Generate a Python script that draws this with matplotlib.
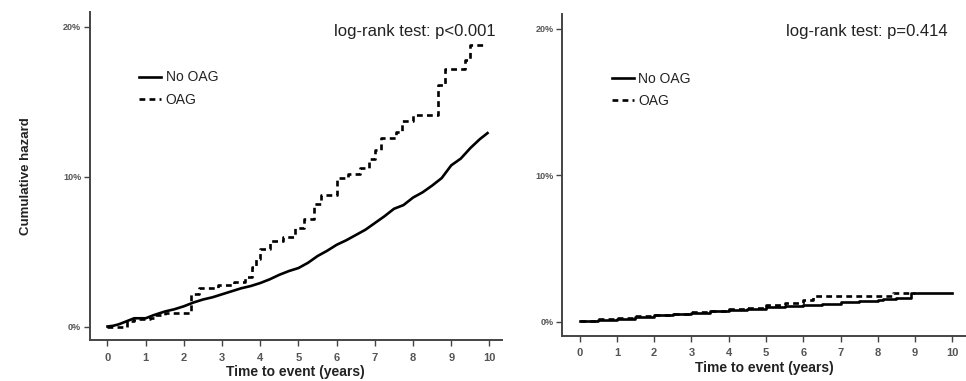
"""Cumulative hazard curves, OAG vs no OAG, two panels side by side."""
import matplotlib; matplotlib.use("Agg")
import matplotlib.pyplot as plt
from matplotlib.ticker import FuncFormatter

plt.rcParams["font.family"] = ["Liberation Sans", "DejaVu Sans"]

# left panel (values in %)
left_no_t = [0, 0.15, 0.3, 0.5, 0.7, 1.0, 1.2, 1.5, 1.75, 2.0, 2.25, 2.5, 2.75, 3.0, 3.25,
             3.5, 3.75, 4.0, 4.25, 4.5, 4.75, 5.0, 5.25, 5.5, 5.75, 6.0, 6.25, 6.5, 6.75,
             7.0, 7.25, 7.5, 7.75, 8.0, 8.25, 8.5, 8.75, 9.0, 9.25, 9.5, 9.75, 9.95]
left_no_v = [0.0, 0.05, 0.15, 0.35, 0.55, 0.55, 0.75, 1.0, 1.15, 1.35, 1.6, 1.8, 1.95, 2.15,
             2.35, 2.55, 2.7, 2.9, 3.15, 3.45, 3.7, 3.9, 4.25, 4.7, 5.05, 5.45, 5.75, 6.1,
             6.45, 6.9, 7.35, 7.85, 8.1, 8.6, 8.95, 9.4, 9.9, 10.75, 11.2, 11.9, 12.5, 12.9]
left_oag_t = [0, 0.5, 0.7, 1.1, 1.25, 1.5, 2.18, 2.4, 2.9, 3.3, 3.6, 3.78, 3.9, 4.0, 4.25,
              4.6, 4.9, 5.15, 5.4, 5.6, 6.02, 6.3, 6.6, 6.85, 7.0, 7.15, 7.55, 7.7, 8.0,
              8.65, 8.83, 9.36, 9.5, 9.88]
left_oag_v = [0.0, 0.35, 0.5, 0.6, 0.8, 0.9, 2.2, 2.6, 2.8, 3.0, 3.3, 4.0, 4.5, 5.2, 5.7,
              6.0, 6.6, 7.2, 8.2, 8.8, 9.9, 10.2, 10.6, 11.2, 11.8, 12.6, 13.0, 13.7, 14.1,
              16.1, 17.2, 17.8, 18.8, 18.8]

# right panel
right_no_t = [0, 0.5, 1, 1.5, 2, 2.5, 3, 3.5, 4, 4.5, 5, 5.5, 6, 6.5, 7, 7.5, 8, 8.15,
              8.5, 8.9, 10.0]
right_no_v = [0.05, 0.1, 0.2, 0.33, 0.45, 0.52, 0.58, 0.72, 0.8, 0.88, 0.98, 1.06, 1.14,
              1.22, 1.32, 1.4, 1.45, 1.55, 1.62, 1.92, 1.92]
right_oag_t = [0, 0.5, 1, 1.5, 2, 2.5, 3, 3.5, 4, 4.5, 5, 5.5, 6, 6.26, 8.4, 9.0]
right_oag_v = [0.05, 0.15, 0.25, 0.35, 0.45, 0.55, 0.65, 0.75, 0.85, 0.95, 1.1, 1.25,
               1.45, 1.72, 1.92, 1.92]

pvals = ["log-rank test: p<0.001", "log-rank test: p=0.414"]
labels = ["No OAG", "OAG"]
GREY = "#555555"

fig = plt.figure(figsize=(9.66, 3.81), dpi=100)
axes = [fig.add_axes([0.0927, 0.1076, 0.427, 0.861]),
        fig.add_axes([0.5818, 0.119, 0.418, 0.8435])]
panels = [(left_no_t, left_no_v, left_oag_t, left_oag_v, "-"),
          (right_no_t, right_no_v, right_oag_t, right_oag_v, "steps")]
text_pos = [(0.985, 0.939), (0.955, 0.945)]
leg_pos = [(0.09, 0.86), (0.093, 0.86)]

for i, (ax, (nt, nv, ot, ov, nstyle)) in enumerate(zip(axes, panels)):
    if nstyle == "-":
        ax.plot(nt, nv, color="black", lw=1.9, label=labels[0])
    else:
        ax.step(nt, nv, where="post", color="black", lw=1.9, label=labels[0])
    ax.step(ot, ov, where="post", color="black", lw=1.9, ls=(0, (2.2, 1.6)), label=labels[1])
    ax.set_xlim(-0.47, 10.33 if i == 0 else 10.36)
    ax.set_ylim(-0.9 if i == 0 else -0.96, 20.98)
    ax.set_xticks(range(0, 11))
    ax.set_yticks([0, 10, 20])
    ax.yaxis.set_major_formatter(FuncFormatter(lambda v, p: f"{v:.0f}%"))
    for s in ("top", "right"):
        ax.spines[s].set_visible(False)
    for s in ("left", "bottom"):
        ax.spines[s].set_color("#444444"); ax.spines[s].set_linewidth(1.4)
    ax.tick_params(axis="both", colors="#444444", length=4, width=1.0)
    ax.tick_params(axis="x", labelsize=8, labelcolor=GREY, pad=5)
    ax.tick_params(axis="y", labelsize=6.5, labelcolor=GREY, pad=2)
    for lbl in ax.get_xticklabels() + ax.get_yticklabels():
        lbl.set_fontweight("bold")
    ax.set_xlabel("Time to event (years)", fontsize=10, fontweight="bold", color="#222222",
                  labelpad=2)
    ax.text(*text_pos[i], pvals[i], transform=ax.transAxes,
            ha="right", va="center", fontsize=12, color="#222222")
    ax.legend(loc="upper left", bbox_to_anchor=leg_pos[i],
              frameon=False, fontsize=10, handlelength=1.6, handletextpad=0.3,
              labelspacing=0.6, labelcolor="#222222")

axes[0].set_ylabel("Cumulative hazard", fontsize=9.5, fontweight="bold", color="#222222",
                   labelpad=22)

fig.savefig("out.png", dpi=100)
